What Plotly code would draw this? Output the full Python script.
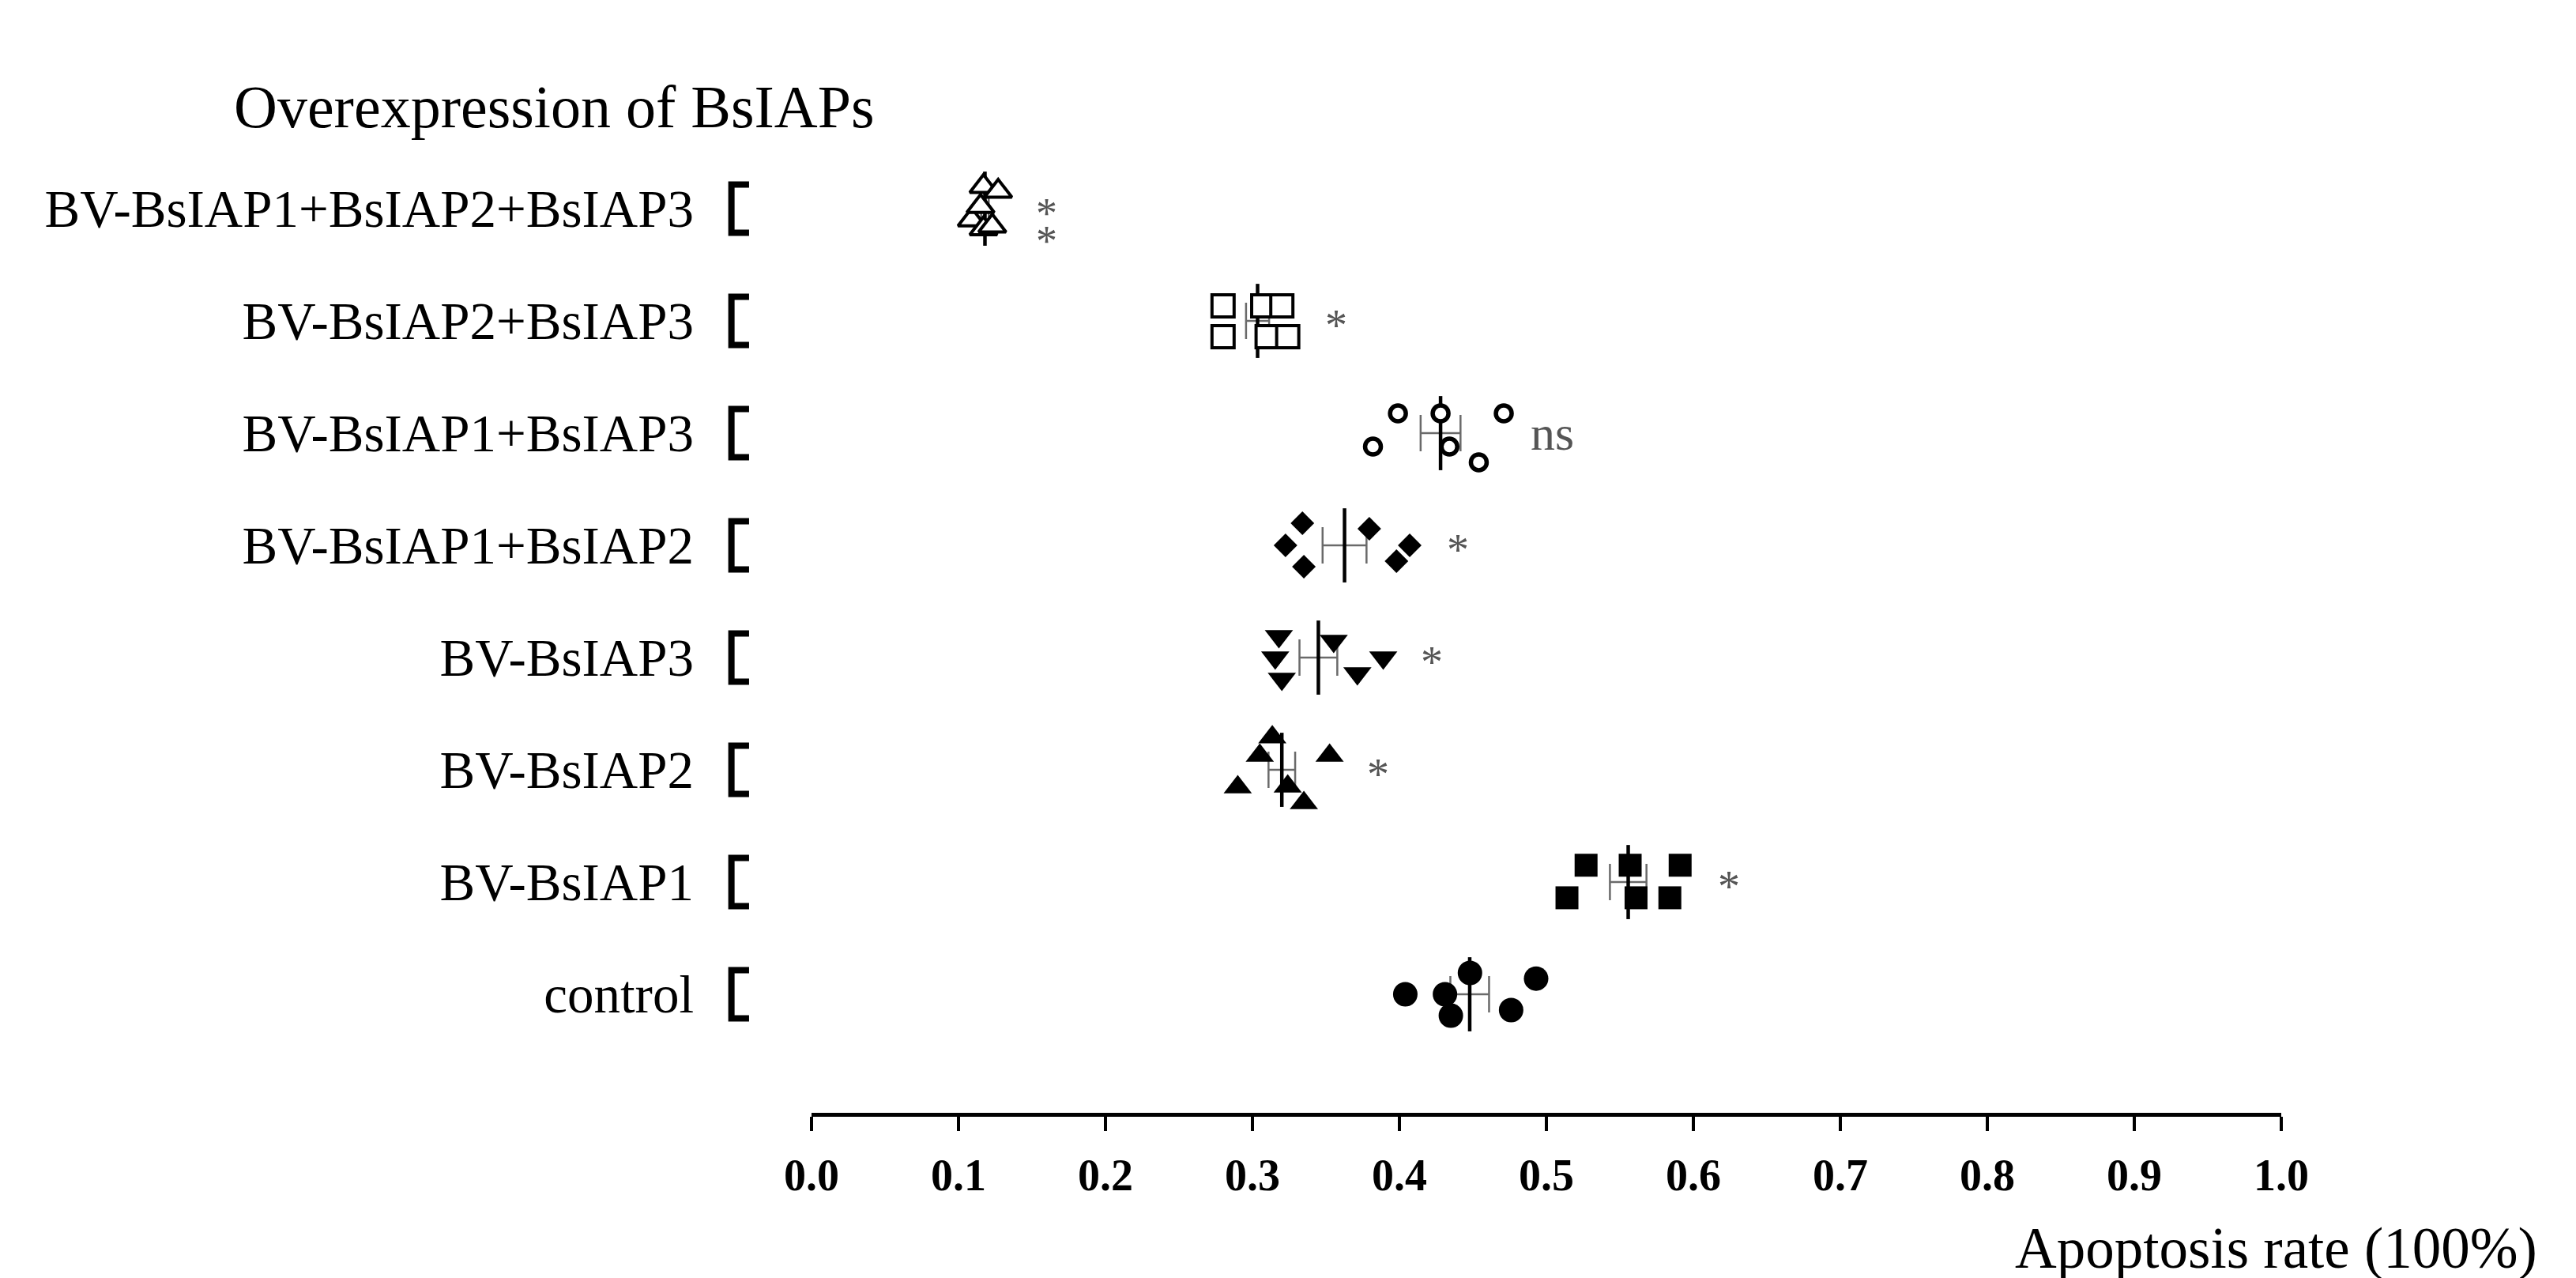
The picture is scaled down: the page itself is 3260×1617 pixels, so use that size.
import numpy as np
import plotly.graph_objects as go

# ---------------- data ----------------
groups = ["control", "BV-BsIAP1", "BV-BsIAP2", "BV-BsIAP3",
          "BV-BsIAP1+BsIAP2", "BV-BsIAP1+BsIAP3", "BV-BsIAP2+BsIAP3",
          "BV-BsIAP1+BsIAP2+BsIAP3"]

control = [0.404, 0.431, 0.435, 0.448, 0.476, 0.493]
bv1 = [0.514, 0.527, 0.557, 0.561, 0.584, 0.591]
bv2 = [0.290, 0.305, 0.3135, 0.324, 0.335, 0.3525]
bv3 = [0.3155, 0.318, 0.320, 0.3553, 0.3714, 0.389]
bv12 = [0.3225, 0.334, 0.335, 0.3795, 0.398, 0.407]
bv13 = [0.382, 0.399, 0.428, 0.434, 0.454, 0.471]
bv23 = [0.280, 0.280, 0.307, 0.310, 0.320, 0.324]
bv123 = [0.109, 0.115, 0.117, 0.117, 0.123, 0.127]

# vertical scatter (jitter) of each point within its row, in row units
jit_control = [0.0, 0.0, -0.19, 0.19, -0.14, 0.14]
jit_bv1 = [-0.14, 0.15, 0.15, -0.14, -0.14, 0.15]
jit_bv2 = [-0.155, 0.127, 0.29, -0.148, -0.296, 0.127]
jit_bv3 = [0.0, 0.19, -0.19, 0.148, -0.141, 0.0]
jit_bv12 = [0.0, 0.197, -0.19, 0.148, -0.141, 0.0]
jit_bv13 = [-0.12, 0.176, 0.176, -0.12, -0.26, 0.176]
jit_bv23 = [0.134, -0.14, 0.134, -0.14, 0.134, -0.14]
jit_bv123 = [-0.1, 0.02, 0.197, -0.18, -0.155, 0.155]

significance = ["", "*", "*", "*", "*", "ns", "*", "**"]

x_ticks = [0.0, 0.1, 0.2, 0.3, 0.4, 0.5, 0.6, 0.7, 0.8, 0.9, 1.0]

values = [control, bv1, bv2, bv3, bv12, bv13, bv23, bv123]
jitters = [jit_control, jit_bv1, jit_bv2, jit_bv3, jit_bv12, jit_bv13, jit_bv23, jit_bv123]

# ---------------- styles ----------------
SERIF = "Liberation Serif"
marker_styles = [
    dict(symbol="circle", size=31, color="black", line=dict(width=0)),
    dict(symbol="square", size=29, color="black", line=dict(width=0)),
    dict(symbol="triangle-up", size=31, color="black", line=dict(width=0)),
    dict(symbol="triangle-down", size=31, color="black", line=dict(width=0)),
    dict(symbol="diamond", size=23, color="black", line=dict(width=0)),
    dict(symbol="circle", size=20, color="white", line=dict(width=5.5, color="black")),
    dict(symbol="square", size=28, color="white", line=dict(width=4, color="black")),
    dict(symbol="triangle-up", size=30, color="white", line=dict(width=4, color="black")),
]

means = [float(np.mean(v)) for v in values]
sems = [float(np.std(v, ddof=1) / np.sqrt(len(v))) for v in values]
rows = list(range(len(groups)))

fig = go.Figure()

# mean line + SEM error bars
fig.add_trace(go.Scatter(
    x=means, y=rows, mode="markers",
    marker=dict(symbol="line-ns", size=67, color="black",
                line=dict(width=4.5, color="black")),
    error_x=dict(type="data", array=sems, visible=True,
                 color="#6a6a6a", thickness=2.5, width=23),
    showlegend=False, hoverinfo="skip",
))

# individual points
for i, (vals, jit) in enumerate(zip(values, jitters)):
    fig.add_trace(go.Scatter(
        x=vals, y=[i + j for j in jit], mode="markers",
        marker=marker_styles[i], showlegend=False, name=groups[i],
    ))

# significance labels
GRAY = "#555555"
annotations = []
for i, (vals, s) in enumerate(zip(values, significance)):
    if not s:
        continue
    xpos = max(vals) + 0.033
    if s == "**":
        # two stacked asterisks, each in a compact box so they do not collide
        for shift in (8, -27):
            annotations.append(dict(x=xpos, y=i, xref="x", yref="y", text="*",
                                    showarrow=False, yshift=shift,
                                    height=33, valign="top", borderpad=0,
                                    font=dict(family=SERIF, size=54, color=GRAY)))
    elif s == "ns":
        annotations.append(dict(x=xpos, y=i, xref="x", yref="y", text="ns",
                                showarrow=False, yshift=0,
                                font=dict(family=SERIF, size=62, color=GRAY)))
    else:
        annotations.append(dict(x=xpos, y=i, xref="x", yref="y", text=s,
                                showarrow=False, yshift=-6,
                                font=dict(family=SERIF, size=56, color=GRAY)))

annotations.append(dict(x=-0.394, y=1.0103, xref="paper", yref="paper",
                        xanchor="left", yanchor="middle", showarrow=False,
                        text="Overexpression of BsIAPs",
                        font=dict(family=SERIF, size=76, color="black")))
annotations.append(dict(x=1.1753, y=-0.136, xref="paper", yref="paper",
                        xanchor="right", yanchor="middle", showarrow=False,
                        text="Apoptosis rate (100%)",
                        font=dict(family=SERIF, size=73, color="black")))

# brackets next to category labels
shapes = []
bx0, bx1, bh = -0.0545, -0.0425, 0.215
for i in rows:
    shapes.append(dict(type="path", xref="paper", yref="y",
                       path=f"M {bx1},{i + bh} L {bx0},{i + bh} L {bx0},{i - bh} L {bx1},{i - bh}",
                       line=dict(color="black", width=8)))

fig.update_layout(
    width=3260, height=1617,
    margin=dict(l=1019, r=381, t=140, b=217),
    paper_bgcolor="white", plot_bgcolor="white",
    annotations=annotations, shapes=shapes,
    xaxis=dict(range=[0, 1], tickvals=x_ticks, tickformat=".1f",
               showline=True, linewidth=5, linecolor="black",
               ticks="outside", ticklen=18, tickwidth=4, tickcolor="black",
               tickfont=dict(family=SERIF, size=56, color="black", weight="bold"),
               showgrid=False, zeroline=False, ticklabelstandoff=8),
    yaxis=dict(range=[-1.056, 7.817], tickvals=rows, ticktext=groups,
               showline=False, showgrid=False, zeroline=False, ticks="",
               tickfont=dict(family=SERIF, size=67, color="black"),
               ticklabelstandoff=148),
)

fig.write_html("out.html")
